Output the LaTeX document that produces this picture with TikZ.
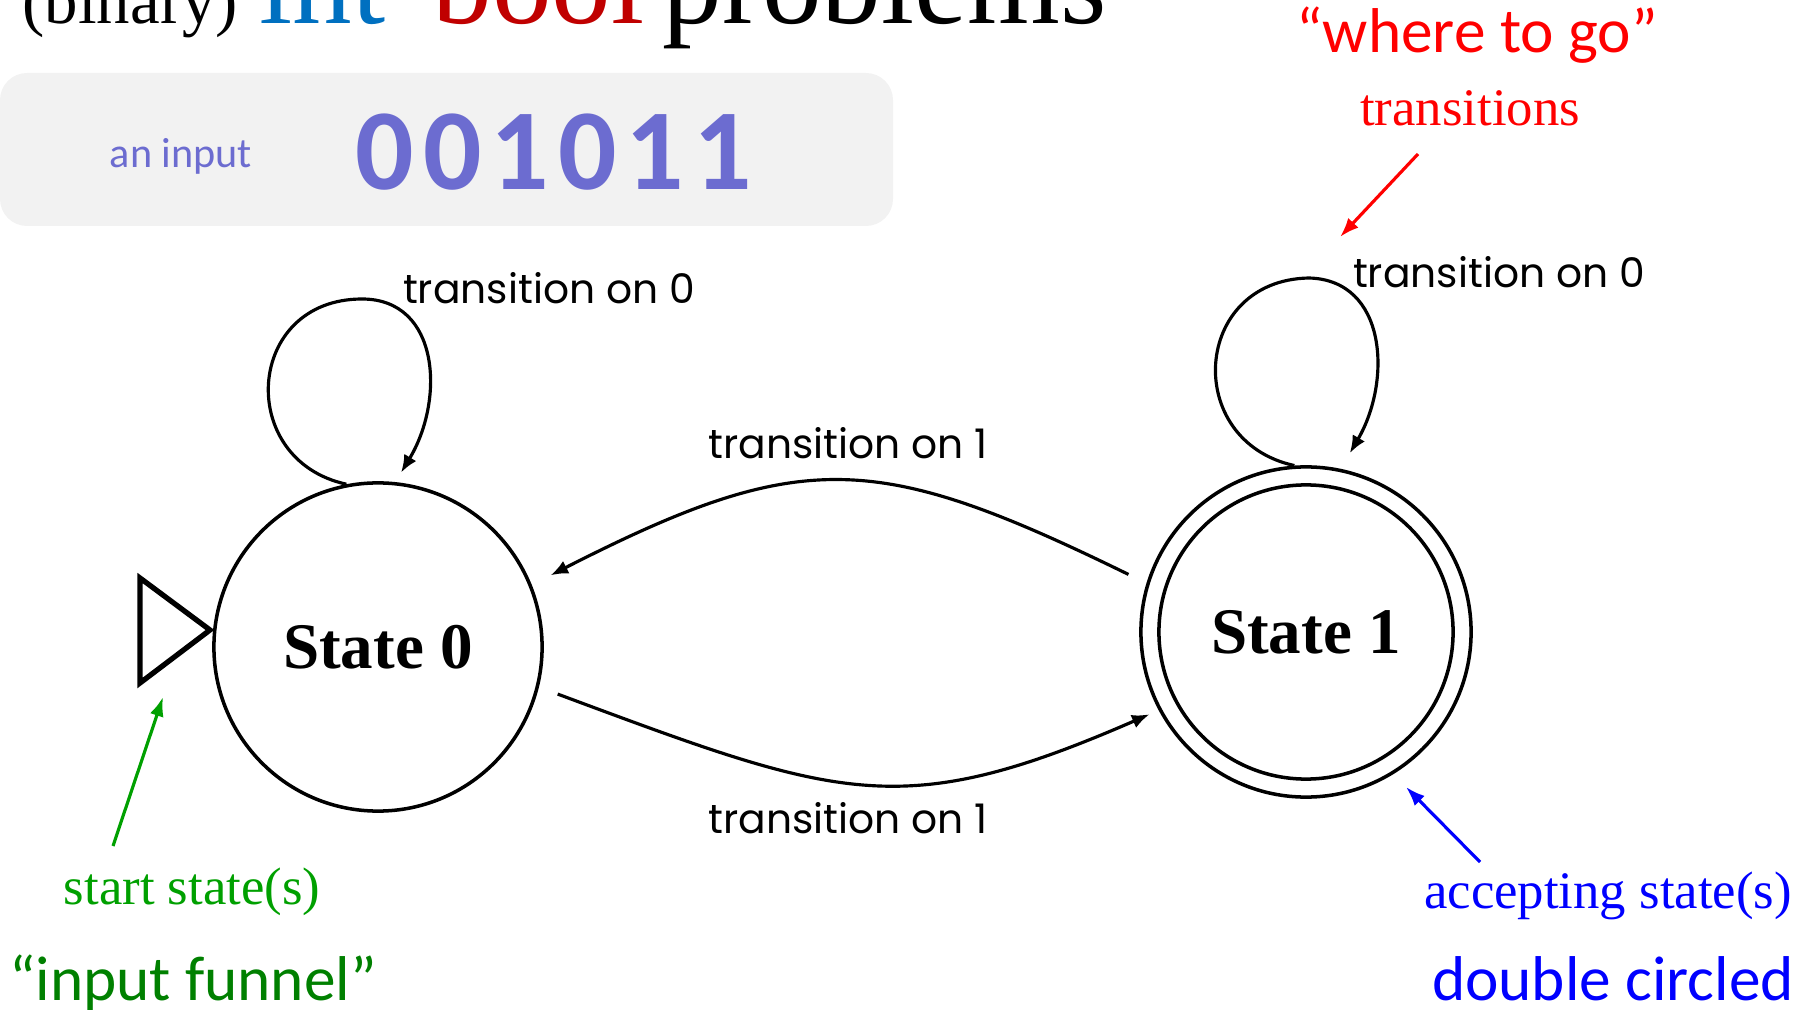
\documentclass[tikz,border=0pt]{standalone}
\usepackage{fontspec}
\setmainfont{Liberation Serif}
\newfontfamily\calfont{Carlito}
\newfontfamily\handfont{Poppins}
\newfontfamily\digitfont[LetterSpace=7.8]{Carlito}
\usetikzlibrary{arrows.meta}

\definecolor{intblue}{RGB}{0,112,192}
\definecolor{boolred}{RGB}{192,0,0}
\definecolor{slate}{RGB}{108,108,208}
\definecolor{panelgray}{RGB}{242,242,242}
\definecolor{startgreen}{RGB}{0,160,0}
\definecolor{funnelgreen}{RGB}{0,128,0}
\definecolor{notered}{RGB}{255,0,0}
\definecolor{noteblue}{RGB}{0,0,255}

\begin{document}
\begin{tikzpicture}[
  x=0.01cm, y=-0.01cm,
  stnode/.style={circle, draw, line width=1pt, inner sep=0pt,
    font=\fontsize{18.5}{22}\selectfont\bfseries},
  trans/.style={line width=0.9pt, -{Latex[length=5pt,width=4pt]}},
  pointer/.style={line width=0.9pt, -{Latex[length=5.5pt,width=4pt]}},
  hand/.style={inner sep=0pt, font=\handfont\fontsize{11.6}{14}\selectfont},
  bigword/.style={anchor=base west, inner sep=0pt, font=\fontsize{33.9}{40}\selectfont},
  callout/.style={inner sep=0pt, font=\calfont\fontsize{18}{22}\selectfont},
  serifnote/.style={inner sep=0pt, font=\fontsize{15}{18}\selectfont}
]
\useasboundingbox (0,0) rectangle (1812,1010);

% heading line (its upper part runs off the top edge)
\node[anchor=base west, inner sep=0pt, font=\fontsize{19}{22}\selectfont] (tbin) at (22,24) {(binary)};
\node[bigword, text=intblue] (tint) at (259,24) {int};
\node[bigword, text=boolred] (tbool) at (432,24) {bool};
\node[bigword] (tprob) at (662,24) {problems};

% input panel
\fill[panelgray, rounded corners=0.27cm] (0,73) rectangle (893,226);
\node[anchor=base, inner sep=0pt, text=slate, font=\calfont\fontsize{12}{14}\selectfont] (ain) at (181,168) {an input};
\node[anchor=base west, inner sep=0pt, text=slate, font=\digitfont\bfseries\fontsize{32.8}{38}\selectfont] (bits) at (355,190) {001011};

% states
\node[stnode, minimum size=3.28cm] (s0) at (378,647) {State 0};
\node[stnode, minimum size=3.30cm] (s1) at (1306,632) {};
\node[stnode, minimum size=2.94cm] (s1in) at (s1) {State 1};

% start marker
\draw[line width=1.5pt, line join=miter] (140,578) -- (210,630) -- (140,683) -- cycle;

% transitions between the states
\draw[trans, shorten <=0.20cm, shorten >=0.21cm]
  (s1.163.5) .. controls (876,451) and (802,447) .. (s0.22.6);
\draw[trans, shorten <=0.20cm, shorten >=0.10cm]
  (s0.-14) .. controls (840,799) and (900,823) .. (s1.208.3);

% self loops
\draw[trans, shorten >=0.11cm]
  (s0.101) .. controls (235,460) and (245,299) .. (362,299)
  .. controls (440,299) and (445,400) .. (s0.84);
\draw[trans, shorten >=0.18cm]
  (s1.94) .. controls (1182,441) and (1192,280) .. (1309,278)
  .. controls (1387,280) and (1392,381) .. (s1.78);

% edge labels
\node[hand] (l00) at (549,288) {transition on 0};
\node[hand] (l11) at (1499,272) {transition on 0};
\node[hand] (l10) at (848,443) {transition on 1};
\node[hand] (l01) at (848,818) {transition on 1};

% annotations
\node[callout, anchor=base, text=notered] (where) at (1477,53) {“where to go”};
\node[serifnote, anchor=base, text=notered] (transn) at (1470,126) {transitions};
\coordinate (rtail) at (1418,154);
\coordinate (rhead) at (1340,237);
\draw[pointer, notered] (rtail) -- (rhead);

\coordinate (gtail) at (113,846);
\coordinate (ghead) at (163,697);
\draw[pointer, startgreen] (gtail) -- (ghead);
\node[serifnote, text=startgreen] (startn) at (192,892) {start state(s)};
\node[callout, anchor=base, text=funnelgreen] (funnel) at (193,1000) {“input funnel”};

\coordinate (btail) at (1480,862);
\coordinate (bhead) at (1406,787);
\draw[pointer, noteblue] (btail) -- (bhead);
\node[serifnote, text=noteblue] (acceptn) at (1608,896) {accepting state(s)};
\node[callout, anchor=base, text=noteblue] (dbl) at (1613,1000) {double circled};
\end{tikzpicture}
\end{document}
